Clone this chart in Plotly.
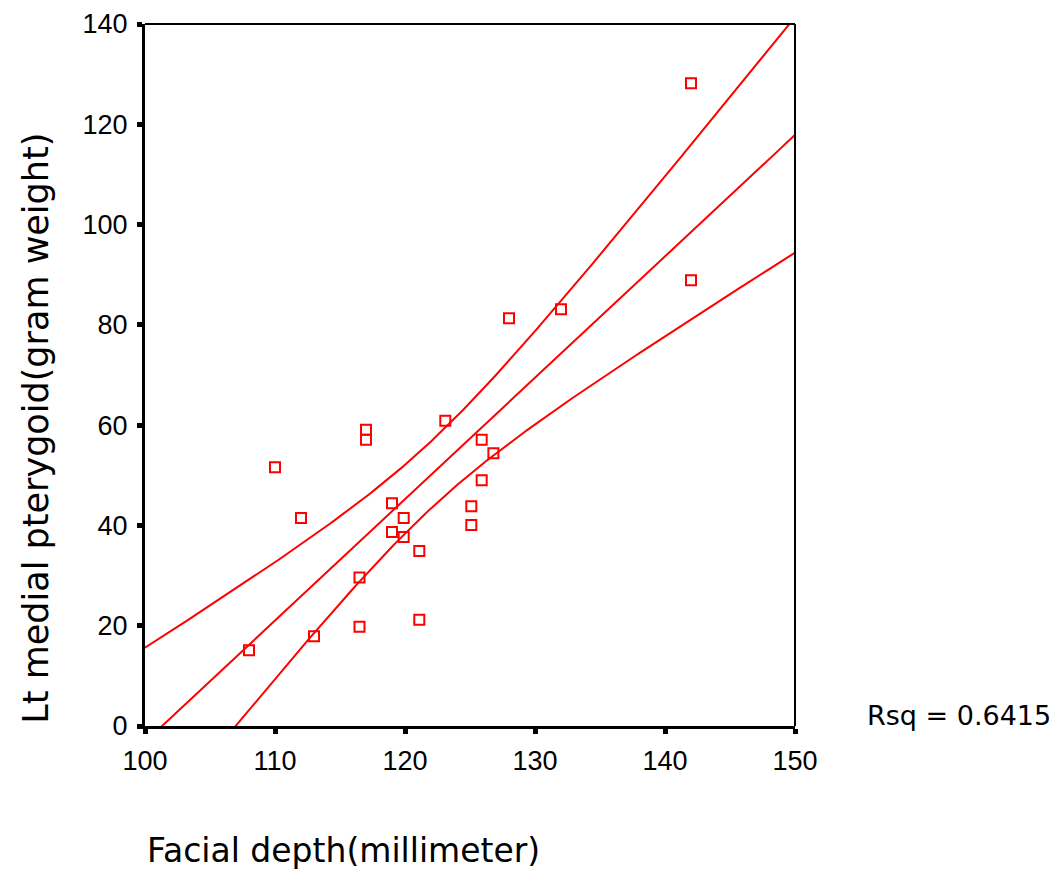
import numpy as np
import plotly.graph_objects as go

# Data
facial_depth = [142.0, 142.0, 132.0, 128.0, 123.1, 117.0, 117.0, 110.0, 125.9, 126.8, 125.9, 119.0,
                112.0, 119.9, 125.1, 125.1, 119.0, 119.9, 121.1, 116.5, 116.5, 121.1, 113.0, 108.0]
lt_medial_pterygoid = [128.2, 88.9, 83.1, 81.3, 60.9, 59.1, 57.1, 51.6, 57.1, 54.4, 49.0, 44.4,
                       41.5, 41.5, 43.8, 40.1, 38.7, 37.7, 34.9, 29.6, 19.8, 21.2, 17.9, 15.1]
x_ticks = [100, 110, 120, 130, 140, 150]
y_ticks = [0, 20, 40, 60, 80, 100, 120, 140]
rsq_label = "Rsq = 0.6415"
t_crit = 2.074  # t(0.975, df=22)

x = np.array(facial_depth)
y = np.array(lt_medial_pterygoid)
n = len(x)
b1, b0 = np.polyfit(x, y, 1)
resid = y - (b0 + b1 * x)
s = np.sqrt(np.sum(resid ** 2) / (n - 2))
xm = x.mean()
sxx = np.sum((x - xm) ** 2)

xs = np.linspace(95, 155, 241)
fit = b0 + b1 * xs
half = t_crit * s * np.sqrt(1.0 / n + (xs - xm) ** 2 / sxx)
upper = fit + half
lower = fit - half

RED = "#ff0000"
fig = go.Figure()
for yy in (upper, fit, lower):
    fig.add_trace(go.Scatter(x=xs, y=yy, mode="lines", line=dict(color=RED, width=2),
                             hoverinfo="skip", showlegend=False))
fig.add_trace(go.Scatter(x=x, y=y, mode="markers",
                         marker=dict(symbol="square-open", size=10, color=RED, line=dict(width=2, color=RED)),
                         showlegend=False))

FONT = "DejaVu Sans"
TICKFONT = "Liberation Sans"
fig.update_layout(
    width=1059, height=875,
    margin=dict(l=137, r=272, t=16, b=157, autoexpand=False),
    paper_bgcolor="white", plot_bgcolor="white",
    font=dict(family=FONT, color="black", size=24),
    xaxis=dict(range=[100, 150], tickvals=x_ticks, ticktext=[str(v) for v in x_ticks],
               showgrid=False, zeroline=False, showline=True, linecolor="black", linewidth=3,
               ticks="outside", ticklen=5, tickwidth=5, tickcolor="black", automargin=False,
               ticklabelstandoff=4, ticklabeloverflow="allow", tickfont=dict(size=27, family=TICKFONT)),
    yaxis=dict(range=[0, 140], tickvals=y_ticks, ticktext=[str(v) for v in y_ticks],
               showgrid=False, zeroline=False, showline=True, linecolor="black", linewidth=3,
               ticks="outside", ticklen=5, tickwidth=5, tickcolor="black", automargin=False,
               ticklabelstandoff=4, ticklabeloverflow="allow", tickfont=dict(size=27, family=TICKFONT)),
    shapes=[
        dict(type="line", xref="paper", yref="paper", x0=0, x1=1, y0=1, y1=1,
             line=dict(color="black", width=2)),
        dict(type="line", xref="paper", yref="paper", x0=1, x1=1, y0=0, y1=1,
             line=dict(color="black", width=2)),
    ],
    annotations=[
        dict(text="Facial depth(millimeter)", xref="paper", yref="paper", x=0, y=-0.177,
             xanchor="left", yanchor="middle", showarrow=False, font=dict(size=33, family=FONT)),
        dict(text="Lt medial pterygoid(gram weight)", xref="paper", yref="paper", x=-0.169, y=0,
             xanchor="center", yanchor="bottom", textangle=-90, showarrow=False,
             font=dict(size=35, family=FONT)),
        dict(text=rsq_label, xref="paper", yref="paper", x=1.108, y=0.0156,
             xanchor="left", yanchor="middle", showarrow=False, font=dict(size=27, family=FONT)),
    ],
)
fig.write_html("out.html")
